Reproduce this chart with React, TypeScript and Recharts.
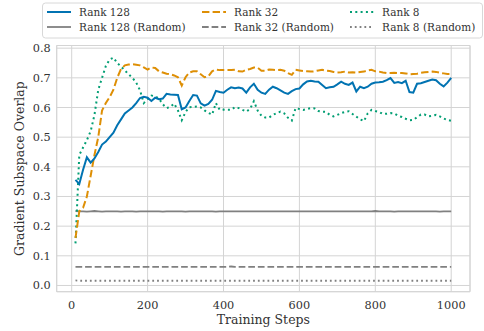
import { LineChart, Line, XAxis, YAxis, CartesianGrid, ReferenceArea } from "recharts";

// training steps, logged every 10 steps
const STEPS = Array.from({ length: 100 }, (_, i) => (i + 1) * 10);

const RANK_128 = [
  0.356, 0.342, 0.39, 0.432, 0.414, 0.428, 0.45, 0.475, 0.485, 0.5,
  0.515, 0.54, 0.56, 0.58, 0.59, 0.6, 0.615, 0.632, 0.636, 0.633,
  0.622, 0.633, 0.628, 0.63, 0.646, 0.644, 0.643, 0.642, 0.594, 0.6,
  0.622, 0.642, 0.64, 0.614, 0.606, 0.612, 0.626, 0.656, 0.652, 0.65,
  0.66, 0.668, 0.665, 0.667, 0.664, 0.65, 0.668, 0.68, 0.66, 0.65,
  0.646, 0.66, 0.67, 0.665, 0.658, 0.65, 0.646, 0.655, 0.662, 0.664,
  0.678, 0.688, 0.69, 0.688, 0.687, 0.676, 0.665, 0.668, 0.67, 0.678,
  0.687, 0.68, 0.676, 0.684, 0.654, 0.67, 0.665, 0.67, 0.68, 0.684,
  0.685, 0.687, 0.692, 0.699, 0.683, 0.686, 0.682, 0.69, 0.652, 0.65,
  0.68, 0.682, 0.686, 0.69, 0.694, 0.692, 0.68, 0.671, 0.684, 0.7,
];

const RANK_32 = [
  0.16, 0.25, 0.262, 0.3, 0.37, 0.44, 0.5, 0.59, 0.615, 0.635,
  0.66, 0.7, 0.73, 0.742, 0.745, 0.746, 0.744, 0.742, 0.735, 0.728,
  0.735, 0.733, 0.722, 0.718, 0.714, 0.712, 0.708, 0.702, 0.674, 0.702,
  0.718, 0.722, 0.722, 0.712, 0.702, 0.705, 0.722, 0.728, 0.726, 0.726,
  0.726, 0.726, 0.727, 0.722, 0.721, 0.727, 0.73, 0.735, 0.734, 0.724,
  0.724, 0.728, 0.727, 0.726, 0.727, 0.724, 0.716, 0.71, 0.727, 0.725,
  0.723, 0.722, 0.721, 0.722, 0.725, 0.727, 0.724, 0.723, 0.72, 0.718,
  0.719, 0.721, 0.718, 0.719, 0.718, 0.72, 0.721, 0.725, 0.727, 0.722,
  0.721, 0.718, 0.716, 0.716, 0.717, 0.716, 0.716, 0.715, 0.712, 0.713,
  0.714, 0.717, 0.719, 0.72, 0.721, 0.72, 0.717, 0.715, 0.713, 0.713,
];

const RANK_8 = [
  0.142, 0.44, 0.465, 0.49, 0.52, 0.575, 0.66, 0.7, 0.74, 0.762,
  0.768, 0.75, 0.738, 0.725, 0.712, 0.7, 0.684, 0.658, 0.615, 0.628,
  0.64, 0.638, 0.63, 0.611, 0.598, 0.602, 0.613, 0.59, 0.557, 0.585,
  0.601, 0.602, 0.603, 0.6, 0.59, 0.582, 0.576, 0.615, 0.592, 0.593,
  0.592, 0.592, 0.601, 0.598, 0.592, 0.586, 0.595, 0.621, 0.59, 0.572,
  0.566, 0.566, 0.575, 0.581, 0.586, 0.58, 0.565, 0.556, 0.598, 0.595,
  0.592, 0.595, 0.598, 0.597, 0.588, 0.586, 0.585, 0.575, 0.57, 0.575,
  0.581, 0.585, 0.587, 0.578, 0.569, 0.56, 0.554, 0.58, 0.592, 0.588,
  0.585, 0.578, 0.579, 0.581, 0.58, 0.572, 0.568, 0.562, 0.557, 0.558,
  0.567, 0.576, 0.576, 0.57, 0.572, 0.575, 0.57, 0.563, 0.558, 0.555,
];

const RANK_128_RANDOM = [
  0.251, 0.25, 0.25, 0.249, 0.25, 0.251, 0.25, 0.249, 0.25, 0.25,
  0.25, 0.25, 0.249, 0.25, 0.25, 0.25, 0.249, 0.25, 0.25, 0.25,
  0.25, 0.25, 0.25, 0.249, 0.25, 0.25, 0.25, 0.25, 0.25, 0.249,
  0.25, 0.25, 0.25, 0.25, 0.25, 0.25, 0.25, 0.249, 0.25, 0.25,
  0.25, 0.25, 0.25, 0.25, 0.25, 0.25, 0.25, 0.25, 0.25, 0.25,
  0.25, 0.25, 0.25, 0.25, 0.25, 0.25, 0.25, 0.25, 0.25, 0.25,
  0.25, 0.25, 0.25, 0.25, 0.25, 0.25, 0.25, 0.25, 0.25, 0.25,
  0.25, 0.25, 0.25, 0.25, 0.25, 0.25, 0.25, 0.25, 0.25, 0.251,
  0.25, 0.25, 0.25, 0.25, 0.249, 0.25, 0.25, 0.25, 0.25, 0.25,
  0.25, 0.25, 0.25, 0.25, 0.25, 0.25, 0.249, 0.25, 0.25, 0.25,
];

const RANK_32_RANDOM = [
  0.063, 0.063, 0.063, 0.063, 0.063, 0.063, 0.063, 0.063, 0.063, 0.063,
  0.063, 0.063, 0.063, 0.063, 0.063, 0.063, 0.063, 0.063, 0.063, 0.063,
  0.063, 0.063, 0.063, 0.063, 0.063, 0.063, 0.063, 0.063, 0.063, 0.063,
  0.063, 0.063, 0.063, 0.063, 0.063, 0.063, 0.063, 0.063, 0.063, 0.063,
  0.063, 0.064, 0.063, 0.063, 0.063, 0.063, 0.063, 0.063, 0.063, 0.063,
  0.063, 0.063, 0.063, 0.063, 0.063, 0.063, 0.063, 0.063, 0.063, 0.063,
  0.063, 0.063, 0.063, 0.063, 0.063, 0.063, 0.063, 0.063, 0.063, 0.063,
  0.063, 0.063, 0.063, 0.063, 0.063, 0.063, 0.063, 0.063, 0.063, 0.063,
  0.063, 0.063, 0.063, 0.063, 0.063, 0.063, 0.063, 0.063, 0.063, 0.063,
  0.063, 0.063, 0.063, 0.063, 0.063, 0.063, 0.063, 0.063, 0.063, 0.063,
];

const RANK_8_RANDOM = [
  0.017, 0.016, 0.016, 0.016, 0.016, 0.016, 0.016, 0.016, 0.016, 0.016,
  0.016, 0.016, 0.016, 0.016, 0.016, 0.016, 0.016, 0.016, 0.016, 0.016,
  0.016, 0.016, 0.016, 0.016, 0.016, 0.016, 0.016, 0.016, 0.016, 0.016,
  0.016, 0.016, 0.016, 0.016, 0.016, 0.016, 0.016, 0.016, 0.016, 0.016,
  0.016, 0.016, 0.016, 0.016, 0.016, 0.016, 0.016, 0.016, 0.016, 0.016,
  0.016, 0.016, 0.016, 0.016, 0.016, 0.016, 0.016, 0.016, 0.016, 0.016,
  0.016, 0.016, 0.016, 0.016, 0.016, 0.016, 0.016, 0.016, 0.016, 0.016,
  0.016, 0.016, 0.016, 0.016, 0.016, 0.016, 0.016, 0.016, 0.016, 0.016,
  0.016, 0.016, 0.016, 0.016, 0.016, 0.016, 0.016, 0.016, 0.016, 0.016,
  0.016, 0.016, 0.016, 0.016, 0.016, 0.016, 0.016, 0.016, 0.016, 0.016,
];

const X_TICKS = [0, 200, 400, 600, 800, 1000];
const Y_TICKS = [0, 0.1, 0.2, 0.3, 0.4, 0.5, 0.6, 0.7, 0.8];
const X_DOMAIN: [number, number] = [-39.5, 1049.5];
const Y_DOMAIN: [number, number] = [-0.021, 0.809];

const FONT = "'DejaVu Serif', serif";
const TEXT = "#333333";
const GRID = "#d4d4d4";

const SERIES = [
  { key: "r128", name: "Rank 128", color: "#0173b2", width: 2, dash: undefined },
  { key: "r32", name: "Rank 32", color: "#de8f05", width: 2, dash: "7.4 3.2" },
  { key: "r8", name: "Rank 8", color: "#029e73", width: 2, dash: "2 3.3" },
  { key: "r128r", name: "Rank 128 (Random)", color: "#808080", width: 1.8, dash: undefined },
  { key: "r32r", name: "Rank 32 (Random)", color: "#808080", width: 1.8, dash: "6.7 2.9" },
  { key: "r8r", name: "Rank 8 (Random)", color: "#808080", width: 1.8, dash: "1.8 3" },
];

const chartData = STEPS.map((step, i) => ({
  step,
  r128: RANK_128[i],
  r32: RANK_32[i],
  r8: RANK_8[i],
  r128r: RANK_128_RANDOM[i],
  r32r: RANK_32_RANDOM[i],
  r8r: RANK_8_RANDOM[i],
}));

// legend columns: x of the line sample for each column, row y
const LEGEND_COLS = [47, 202, 350];
const LEGEND_ROWS = [12, 27];

function LegendBox() {
  return (
    <svg
      width={442}
      height={38}
      style={{ position: "absolute", left: 42, top: 1 }}
    >
      <rect x={0.5} y={2} width={440} height={35} rx={3} fill="#fff" stroke="#d8d8d8" />
      {SERIES.map((s, i) => {
        const col = i % 3;
        const row = Math.floor(i / 3);
        const x = LEGEND_COLS[col] - 42;
        const y = LEGEND_ROWS[row] - 1;
        return (
          <g key={s.key}>
            <line
              x1={x}
              x2={x + 24}
              y1={y}
              y2={y}
              stroke={s.color}
              strokeWidth={s.width}
              strokeDasharray={s.dash}
            />
            <text
              x={x + 32}
              y={y}
              dy="0.36em"
              fill={TEXT}
              style={{ fontFamily: FONT, fontSize: 10.5 }}
            >
              {s.name}
            </text>
          </g>
        );
      })}
    </svg>
  );
}

export default function App() {
  return (
    <div
      style={{
        position: "absolute",
        left: 0,
        top: 0,
        width: 484,
        height: 331,
        background: "#fff",
        fontFamily: FONT,
      }}
    >
      <LineChart
        width={484}
        height={331}
        data={chartData}
        margin={{ top: 45.5, right: 14, bottom: 0, left: 0 }}
      >
        <CartesianGrid stroke={GRID} strokeWidth={1} />
        <XAxis
          dataKey="step"
          type="number"
          domain={X_DOMAIN}
          ticks={X_TICKS}
          allowDataOverflow
          height={39.3}
          tickLine={false}
          axisLine={false}
          tickSize={0}
          tickMargin={9}
          tick={{ fill: TEXT, fontSize: 11.3, fontFamily: FONT }}
          label={{
            value: "Training Steps",
            position: "insideBottom",
            offset: 7,
            fill: TEXT,
            fontSize: 12.5,
            fontFamily: FONT,
          }}
        />
        <YAxis
          type="number"
          domain={Y_DOMAIN}
          ticks={Y_TICKS}
          allowDataOverflow
          width={56.7}
          tickLine={false}
          axisLine={false}
          tickSize={0}
          tickMargin={6}
          tickFormatter={(v: number) => v.toFixed(1)}
          tick={{ fill: TEXT, fontSize: 11.3, fontFamily: FONT }}
          label={{
            value: "Gradient Subspace Overlap",
            angle: -90,
            position: "insideLeft",
            offset: 20,
            fill: TEXT,
            fontSize: 12.5,
            fontFamily: FONT,
            style: { textAnchor: "middle" },
          }}
        />
        <ReferenceArea
          x1={X_DOMAIN[0]}
          x2={X_DOMAIN[1]}
          y1={Y_DOMAIN[0]}
          y2={Y_DOMAIN[1]}
          fill="none"
          stroke={GRID}
          strokeWidth={1}
        />
        {SERIES.slice()
          .reverse()
          .map((s) => (
            <Line
              key={s.key}
              dataKey={s.key}
              name={s.name}
              type="linear"
              stroke={s.color}
              strokeWidth={s.width}
              strokeDasharray={s.dash}
              dot={false}
              activeDot={false}
              isAnimationActive={false}
            />
          ))}
      </LineChart>
      <LegendBox />
    </div>
  );
}
